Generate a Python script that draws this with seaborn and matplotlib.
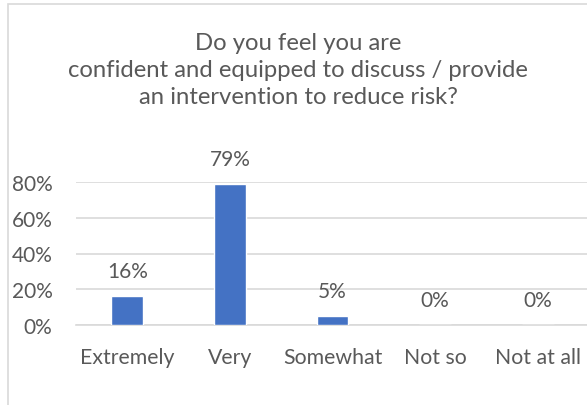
import matplotlib
matplotlib.use("Agg")
import matplotlib.pyplot as plt
from matplotlib.patches import Rectangle
import seaborn as sns
import pandas as pd

categories = ["Extremely", "Very", "Somewhat", "Not so", "Not at all"]
shares = [0.16, 0.79, 0.05, 0.0, 0.0]
title_lines = ["Do you feel you are",
               "confident and equipped to discuss / provide",
               "an intervention to reduce risk?"]

sns.set_theme(style="white")
plt.rcParams["font.family"] = ["Lato", "DejaVu Sans"]

text_grey = "#595959"
grid_grey = "#D9D9D9"
bar_blue = "#4472C4"

fig = plt.figure(figsize=(5.87, 4.06), dpi=100)
fig.patch.set_facecolor("white")

# chart frame
fig.patches.append(Rectangle((8 / 587, -0.2), 1.5, 1.2 - 5 / 406,
                             transform=fig.transFigure, fill=False,
                             edgecolor=grid_grey, linewidth=1.2, zorder=0))

ax = fig.add_axes([76 / 587, 1 - 326 / 406, 513 / 587, (326 - 183) / 406])

df = pd.DataFrame({"category": categories, "share": shares})
sns.barplot(data=df, x="category", y="share", color=bar_blue,
            width=0.31, saturation=1, ax=ax, zorder=3)

ax.set_ylim(0, 0.8)
ax.set_xlim(-0.5, len(categories) - 0.5)
ax.set_yticks([0, 0.2, 0.4, 0.6, 0.8])
ax.set_yticklabels([f"{int(round(v * 100))}%" for v in [0, 0.2, 0.4, 0.6, 0.8]])
ax.yaxis.grid(True, color=grid_grey, linewidth=1.2)
ax.set_axisbelow(True)
for s in ["top", "right", "left"]:
    ax.spines[s].set_visible(False)
ax.spines["bottom"].set_color(grid_grey)
ax.spines["bottom"].set_linewidth(1.2)
ax.set_xlabel("")
ax.set_ylabel("")
ax.tick_params(axis="y", length=0, pad=17, labelsize=15, labelcolor=text_grey)
ax.tick_params(axis="x", length=0, pad=16, labelsize=15.3, labelcolor=text_grey)
ax.set_facecolor("none")

for c in ax.containers:
    ax.bar_label(c, labels=[f"{int(round(v * 100))}%" for v in shares],
                 padding=11, fontsize=15, color=text_grey)

for i, line in enumerate(title_lines):
    fig.text(0.508, 1 - (43 + 27.5 * i) / 406, line, ha="center", va="center",
             fontsize=17.2, color=text_grey)

fig.savefig("out.png", dpi=100)
